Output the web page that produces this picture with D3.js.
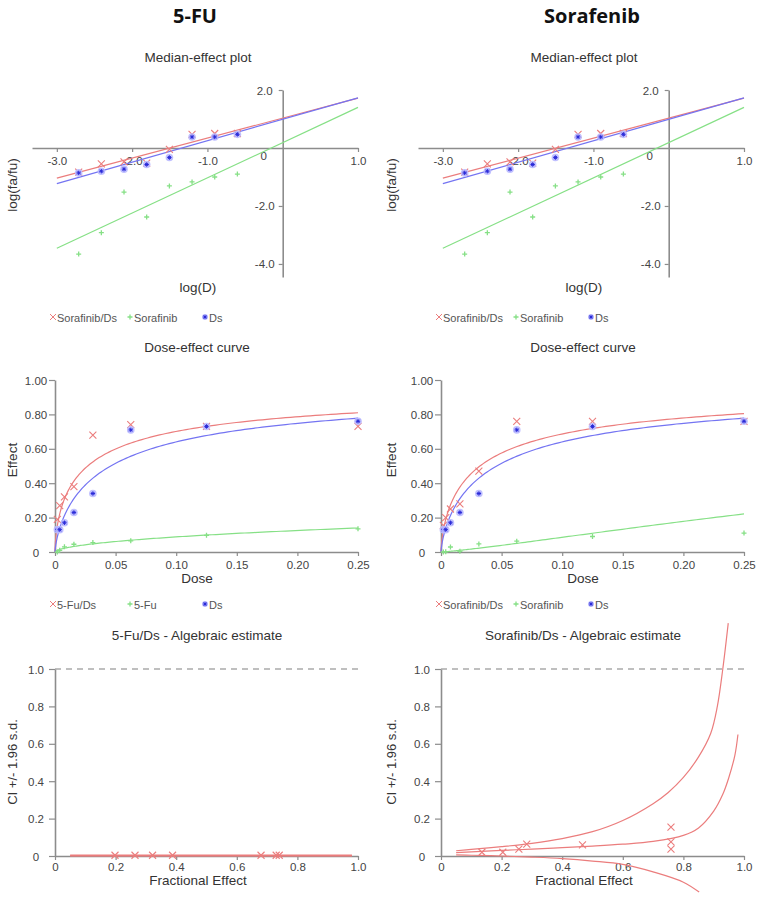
<!DOCTYPE html>
<html><head><meta charset="utf-8">
<script src="https://cdn.jsdelivr.net/npm/d3@7/dist/d3.min.js"></script>
<style>
body{margin:0;background:#fff;}
svg text{font-family:"Liberation Sans",Arial,sans-serif;fill:#333;}
</style></head><body>
<svg id="chart" width="758" height="903"></svg>
<script>
// ---------------- DATA ----------------
const doses = [0.00195, 0.0039, 0.0078, 0.0156, 0.03125, 0.0625, 0.125, 0.25];
const columnTitles = ["5-FU", "Sorafenib"];

// Median-effect plot (same plot shown in both columns): log(fa/fu)
const meComboY = [-0.83, -0.55, -0.48, -0.52, -0.05, 0.47, 0.50, 0.50];
const meDsY    = [-0.86, -0.80, -0.73, -0.57, -0.33, 0.38, 0.38, 0.47];
const meDrugY  = [-3.66, -2.92, -1.52, -2.38, -1.31, -1.17, -1.00, -0.90];
// fitted median-effect lines: slope m, intercept at log(D)=0
const meSlopes     = [0.69, 0.74, 1.215];
const meIntercepts = [1.03, 0.99, 0.185];
const meLegend = ["Sorafinib/Ds", "Sorafinib", "Ds"];

// Dose-effect curves (fa)
const fuComboFa = [0.19, 0.27, 0.32, 0.38, 0.68, 0.74, 0.73, 0.73];
const fuDsFa    = [0.13, 0.13, 0.17, 0.23, 0.34, 0.71, 0.73, 0.76];
const fuDrugFa  = [0.00, 0.01, 0.03, 0.045, 0.055, 0.065, 0.097, 0.135];
const fuSlopes     = [0.65, 0.74, 0.57];
const fuIntercepts = [1.02, 0.99, -0.447];
const fuLegend = ["5-Fu/Ds", "5-Fu", "Ds"];

const soComboFa = [0.155, 0.20, 0.25, 0.28, 0.47, 0.76, 0.76, 0.76];
const soDsFa    = [0.13, 0.13, 0.17, 0.23, 0.34, 0.71, 0.73, 0.76];
const soDrugFa  = [0.0002, 0.0012, 0.029, 0.004, 0.047, 0.063, 0.09, 0.11];
const soSlopes     = [0.69, 0.74, 1.215];
const soIntercepts = [1.03, 0.99, 0.185];
const soLegend = ["Sorafinib/Ds", "Sorafinib", "Ds"];

// CI plots
const ciTitles = ["5-Fu/Ds - Algebraic estimate", "Sorafinib/Ds - Algebraic estimate"];
const fuCiFa  = [0.198, 0.264, 0.322, 0.388, 0.68, 0.73, 0.74];
const fuCiVal = [0.004, 0.004, 0.004, 0.004, 0.004, 0.004, 0.004];
const fuCiLineFa  = [0.05, 0.2, 0.4, 0.6, 0.8, 0.98];
const fuCiMid     = [0.002, 0.002, 0.002, 0.002, 0.002, 0.002];
const fuCiUpper   = [0.005, 0.005, 0.005, 0.005, 0.005, 0.005];
const fuCiLower   = [0.0, 0.0, 0.0, 0.0, 0.0, 0.0];

const soCiFa  = [0.135, 0.204, 0.257, 0.283, 0.467, 0.759, 0.759, 0.759];
const soCiVal = [0.02, 0.02, 0.037, 0.064, 0.059, 0.155, 0.075, 0.037];
const soMidFa  = [0.05, 0.1, 0.2, 0.3, 0.4, 0.5, 0.6, 0.7, 0.8, 0.85, 0.9, 0.93, 0.95, 0.97, 0.98];
const soMidVal = [0.018, 0.022, 0.03, 0.037, 0.045, 0.053, 0.063, 0.078, 0.11, 0.15, 0.24, 0.33, 0.42, 0.54, 0.65];
const soUpFa   = [0.05, 0.1, 0.2, 0.3, 0.4, 0.5, 0.6, 0.7, 0.75, 0.8, 0.85, 0.89, 0.912, 0.93, 0.948];
const soUpVal  = [0.028, 0.035, 0.05, 0.068, 0.093, 0.13, 0.19, 0.28, 0.34, 0.42, 0.53, 0.655, 0.8, 1.0, 1.245];
const soLoFa   = [0.05, 0.1, 0.2, 0.3, 0.4, 0.5, 0.6, 0.7, 0.8, 0.852];
const soLoVal  = [0.006, 0.004, 0.0, -0.006, -0.014, -0.027, -0.045, -0.085, -0.14, -0.193];

// tick labels
const meXTicks = [-3, -2, -1, 1];
const meXTickLabels = ["-3.0", "-2.0", "-1.0", "1.0"];
const meYTicks = [2, -2, -4];
const meYTickLabels = ["2.0", "-2.0", "-4.0"];
const doseXTicks = [0, 0.05, 0.10, 0.15, 0.20, 0.25];
const doseXTickLabels = ["0", "0.05", "0.10", "0.15", "0.20", "0.25"];
const doseYTicks = [0, 0.2, 0.4, 0.6, 0.8, 1.0];
const doseYTickLabels = ["0", "0.20", "0.40", "0.60", "0.80", "1.00"];
const ciTicks = [0, 0.2, 0.4, 0.6, 0.8, 1.0];
const ciTickLabels = ["0", "0.2", "0.4", "0.6", "0.8", "1.0"];

// ---------------- STYLE ----------------
const RED = "#eb7d7d", GREEN = "#86e086", BLUE = "#7474f2";
const BLUE_DARK = "#2a2ad8", BLUE_FILL = "#b9b9ff";
const AXIS = "#8c8c8c";
const TICK_FS = 11.5, TITLE_FS = 13.5, LABEL_FS = 13.5;

const svg = d3.select("#chart");

function cross(g, x, y, s, color, w) {
  g.append("path").attr("d", `M${x-s},${y-s}L${x+s},${y+s}M${x-s},${y+s}L${x+s},${y-s}`)
    .attr("stroke", color).attr("stroke-width", w || 1.1).attr("fill", "none");
}
function plus(g, x, y, s, color) {
  g.append("path").attr("d", `M${x-s},${y}L${x+s},${y}M${x},${y-s}L${x},${y+s}`)
    .attr("stroke", color).attr("stroke-width", 1.3).attr("fill", "none");
}
function dsMark(g, x, y, r) {
  g.append("circle").attr("cx", x).attr("cy", y).attr("r", r || 4).attr("fill", BLUE_FILL).attr("opacity", 0.9);
  const s = 2.2;
  g.append("path").attr("d", `M${x-s},${y}L${x+s},${y}M${x},${y-s}L${x},${y+s}M${x-s*0.7},${y-s*0.7}L${x+s*0.7},${y+s*0.7}M${x-s*0.7},${y+s*0.7}L${x+s*0.7},${y-s*0.7}`)
    .attr("stroke", BLUE_DARK).attr("stroke-width", 1).attr("fill", "none");
}
function text(g, x, y, str, size, opts) {
  opts = opts || {};
  const t = g.append("text").attr("x", x).attr("y", y).text(str)
    .attr("font-size", size).attr("text-anchor", opts.anchor || "middle")
    .attr("dominant-baseline", "central");
  if (opts.rotate) t.attr("transform", `rotate(-90,${x},${y})`);
  if (opts.weight) t.attr("font-weight", opts.weight);
  if (opts.family) t.style("font-family", opts.family);
  if (opts.fill) t.style("fill", opts.fill);
  return t;
}
function styleAxis(sel) {
  sel.select(".domain").attr("stroke", AXIS).attr("stroke-width", 1.6);
  sel.selectAll(".tick line").attr("stroke", AXIS).attr("stroke-width", 1.2);
  sel.selectAll(".tick text").attr("font-size", TICK_FS).style("fill", "#444")
    .style("font-family", '"Liberation Sans",Arial,sans-serif');
}
function legend(g, y, labels, dx) {
  const xs = [53, 130, 205];
  cross(g, dx + xs[0], y, 3, RED, 1);
  plus(g, dx + xs[1], y, 2.5, GREEN);
  dsMark(g, dx + xs[2], y, 3);
  labels.forEach((l, i) => text(g, dx + xs[i] + 4, y + 1, l, 11, {anchor: "start", fill: "#555"}));
}

function panel(col) {
  const dx = col === 0 ? 0 : 386;
  const ylabX = col === 0 ? 12 : 391;
  const g = svg.append("g");
  // column title
  text(g, col === 0 ? 195 : 592, 15, columnTitles[col], 20, {weight: "bold", family: "'Open Sans', Lato, sans-serif", fill: "#111"});

  // ---------- Median-effect plot ----------
  text(g, 198 + dx, 57, "Median-effect plot", TITLE_FS);
  const mx = d3.scaleLinear().domain([-3.33, 1]).range([32 + dx, 358 + dx]);
  const my = d3.scaleLinear().domain([-4.45, 2]).range([277, 90]);
  const xa = g.append("g").attr("transform", `translate(0,${my(0)})`)
    .call(d3.axisBottom(mx).tickValues(meXTicks).tickSize(4).tickSizeOuter(0)
      .tickFormat((d, i) => meXTickLabels[i]));
  styleAxis(xa); xa.selectAll(".tick text").attr("dy", null).attr("y", 13).attr("dominant-baseline", "central");
  const ya = g.append("g").attr("transform", `translate(${mx(0)},0)`)
    .call(d3.axisLeft(my).tickValues(meYTicks).tickSize(4).tickSizeOuter(0)
      .tickFormat((d, i) => meYTickLabels[i]));
  styleAxis(ya); ya.selectAll(".tick text").attr("x", -18).attr("dy", null).attr("text-anchor", "middle").attr("dominant-baseline", "central");
  text(g, mx(0) - 19, my(0) + 8, "0", TICK_FS, {fill: "#444"});
  text(g, ylabX, 185, "log(fa/fu)", LABEL_FS, {rotate: true});
  text(g, 198 + dx, 287, "log(D)", LABEL_FS);

  const logD = doses.map(d => Math.log10(d));
  const colors = [RED, BLUE, GREEN];
  const order = [2, 0, 1]; // draw green, red, blue
  order.forEach(k => {
    const line = d3.line().x(d => mx(d)).y(d => my(meIntercepts[k] + meSlopes[k] * d));
    g.append("path").datum([-3, 1]).attr("d", line).attr("stroke", colors[k]).attr("stroke-width", 1.2).attr("fill", "none");
  });
  logD.forEach((v, i) => plus(g, mx(v), my(meDrugY[i]), 2.5, GREEN));
  logD.forEach((v, i) => cross(g, mx(v), my(meComboY[i]), 3.5, RED));
  logD.forEach((v, i) => dsMark(g, mx(v), my(meDsY[i]), 3.8));
  legend(g, 317, meLegend, dx);

  // ---------- Dose-effect curve ----------
  text(g, 197 + dx, 347, "Dose-effect curve", TITLE_FS);
  const dxs = d3.scaleLinear().domain([0, 0.25]).range([55 + dx, 358 + dx]);
  const dys = d3.scaleLinear().domain([0, 1]).range([552, 380]);
  const dxa = g.append("g").attr("transform", `translate(0,552)`)
    .call(d3.axisBottom(dxs).tickValues(doseXTicks).tickSize(4).tickSizeOuter(0)
      .tickFormat((d, i) => doseXTickLabels[i]));
  styleAxis(dxa); dxa.selectAll(".tick text").attr("dy", null).attr("y", 13).attr("dominant-baseline", "central");
  const dya = g.append("g").attr("transform", `translate(${55 + dx},0)`)
    .call(d3.axisLeft(dys).tickValues(doseYTicks).tickSize(6).tickSizeOuter(0)
      .tickFormat((d, i) => doseYTickLabels[i]));
  styleAxis(dya); dya.selectAll(".tick text").attr("x", -19).attr("dy", null).attr("text-anchor", "middle").attr("dominant-baseline", "central");
  text(g, ylabX, 460, "Effect", LABEL_FS, {rotate: true});
  text(g, 197 + dx, 578, "Dose", LABEL_FS);

  const combo = col === 0 ? fuComboFa : soComboFa;
  const ds = col === 0 ? fuDsFa : soDsFa;
  const drug = col === 0 ? fuDrugFa : soDrugFa;
  const sl = col === 0 ? fuSlopes : soSlopes;
  const ic = col === 0 ? fuIntercepts : soIntercepts;
  const sample = d3.range(0, 121).map(i => 0.25 * Math.pow(i / 120, 2.2));
  order.forEach(k => {
    const fa = d => {
      if (d <= 0) return 0;
      const r = Math.pow(10, ic[k] + sl[k] * Math.log10(d));
      return r / (1 + r);
    };
    const line = d3.line().x(d => dxs(d)).y(d => dys(fa(d)));
    g.append("path").datum(sample).attr("d", line).attr("stroke", colors[k]).attr("stroke-width", 1.2).attr("fill", "none");
  });
  doses.forEach((d, i) => plus(g, dxs(d), dys(drug[i]), 2.5, GREEN));
  doses.forEach((d, i) => cross(g, dxs(d), dys(combo[i]), 3.5, RED));
  doses.forEach((d, i) => dsMark(g, dxs(d), dys(ds[i]), 3.8));
  legend(g, 604, col === 0 ? fuLegend : soLegend, dx);

  // ---------- CI plot ----------
  text(g, 197 + dx, 635, ciTitles[col], TITLE_FS);
  const cx = d3.scaleLinear().domain([0, 1]).range([55 + dx, 358 + dx]);
  const cy = d3.scaleLinear().domain([0, 1]).range([856, 669]);
  g.append("line").attr("x1", cx(0)).attr("x2", cx(1)).attr("y1", cy(1)).attr("y2", cy(1))
    .attr("stroke", "#aaa").attr("stroke-width", 1.4).attr("stroke-dasharray", "6,5");
  const cxa = g.append("g").attr("transform", `translate(0,856)`)
    .call(d3.axisBottom(cx).tickValues(ciTicks).tickSize(4).tickSizeOuter(0)
      .tickFormat((d, i) => ciTickLabels[i]));
  styleAxis(cxa); cxa.selectAll(".tick text").attr("dy", null).attr("y", 11).attr("dominant-baseline", "central");
  const cya = g.append("g").attr("transform", `translate(${55 + dx},0)`)
    .call(d3.axisLeft(cy).tickValues(ciTicks).tickSize(6).tickSizeOuter(0)
      .tickFormat((d, i) => ciTickLabels[i]));
  styleAxis(cya); cya.selectAll(".tick text").attr("x", -19).attr("dy", null).attr("text-anchor", "middle").attr("dominant-baseline", "central");
  text(g, ylabX, 762, "CI +/- 1.96 s.d.", 13, {rotate: true});
  text(g, 198 + dx, 880, "Fractional Effect", LABEL_FS);

  const cline = d3.line().x(d => cx(d[0])).y(d => cy(d[1])).curve(d3.curveCatmullRom.alpha(0.5));
  let curves;
  if (col === 0) {
    curves = [[fuCiLineFa, fuCiLower], [fuCiLineFa, fuCiMid], [fuCiLineFa, fuCiUpper]];
  } else {
    curves = [[soLoFa, soLoVal], [soMidFa, soMidVal], [soUpFa, soUpVal]];
  }
  curves.forEach(([f, v]) => {
    g.append("path").datum(f.map((d, i) => [d, v[i]])).attr("d", cline)
      .attr("stroke", RED).attr("stroke-width", 1.2).attr("fill", "none");
  });
  const pf = col === 0 ? fuCiFa : soCiFa;
  const pv = col === 0 ? fuCiVal : soCiVal;
  pf.forEach((f, i) => cross(g, cx(f), cy(pv[i]), 3.5, RED));
}

panel(0);
panel(1);
</script>
</body></html>
